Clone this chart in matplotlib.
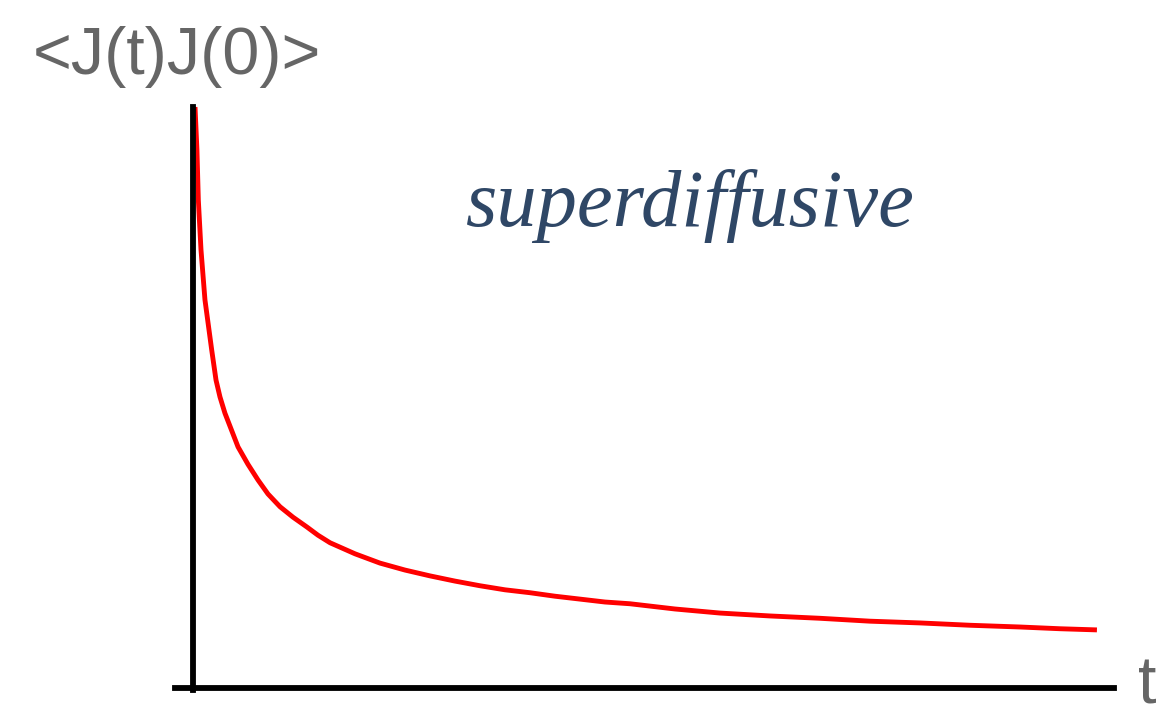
import matplotlib
matplotlib.use("Agg")
import matplotlib.pyplot as plt

# curve (arbitrary units)
t = [0.022, 0.043, 0.058, 0.087, 0.130, 0.203, 0.250, 0.293, 0.347, 0.489, 0.597,
     0.706, 0.814, 0.945, 1.086, 1.238, 1.357, 1.488, 1.759, 2.030, 2.302, 2.573,
     2.845, 3.116, 3.388, 3.659, 3.930, 4.202, 4.473, 4.745, 5.233, 5.722, 6.265,
     6.808, 7.351, 7.894, 8.436, 8.979, 9.414, 9.815]
J = [1.000, 0.926, 0.840, 0.754, 0.668, 0.582, 0.530, 0.501, 0.473, 0.415, 0.385,
     0.358, 0.334, 0.312, 0.294, 0.277, 0.263, 0.250, 0.231, 0.215, 0.203, 0.193,
     0.184, 0.176, 0.169, 0.164, 0.158, 0.153, 0.148, 0.145, 0.136, 0.129, 0.124,
     0.120, 0.115, 0.112, 0.108, 0.105, 0.102, 0.100]

ylabel = "<J(t)J(0)>"
xlabel = "t"
note = "superdiffusive"

fig = plt.figure(figsize=(11.59, 7.14), dpi=100)
ax = fig.add_axes([0, 0, 1, 1])
ax.set_xlim(-2.0955, 10.489)
ax.set_ylim(-0.04475, 1.1842)

ax.plot(t, J, color="red", lw=3.5, solid_capstyle="butt", solid_joinstyle="round")

for s in ["top", "right"]:
    ax.spines[s].set_visible(False)
ax.spines["left"].set_position(("data", 0))
ax.spines["bottom"].set_position(("data", 0))
ax.spines["left"].set_bounds(-0.004, 1.0)
ax.spines["bottom"].set_bounds(-0.195, 10.0)
for s in ["left", "bottom"]:
    ax.spines[s].set_linewidth(4.2)
    ax.spines[s].set_color("black")
ax.set_xticks([])
ax.set_yticks([])
ax.patch.set_visible(False)

fig.text(33 / 1159, 1 - 74 / 714, ylabel, fontsize=48, color="#666666",
         family="Liberation Sans", ha="left", va="baseline")
fig.text(1138 / 1159, 1 - 704 / 714, xlabel, fontsize=48, color="#666666",
         family="Liberation Sans", ha="left", va="baseline")
fig.text(689 / 1159, 1 - 226 / 714, note, fontsize=58, color="#2f4766",
         family="Liberation Serif", style="italic", ha="center", va="baseline")

fig.savefig("out.png", dpi=100)
